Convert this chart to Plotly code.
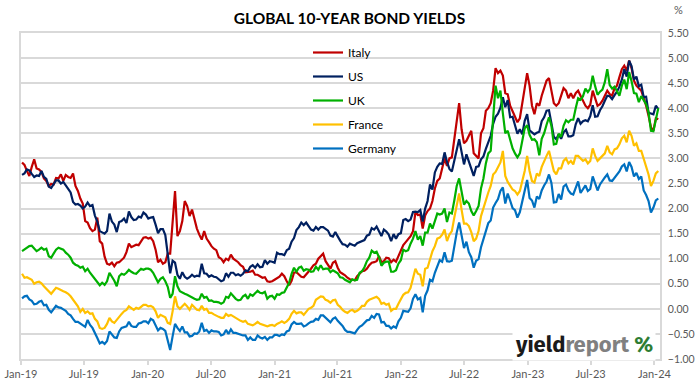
import pandas as pd
import plotly.graph_objects as go

# Weekly (Friday) observations, 2019-01-04 .. 2024-01-12
start_date = "2019-01-04"

italy = (
    # 2019
    [2.92, 2.87, 2.75, 2.65, 2.83, 2.98, 2.80, 2.78, 2.73, 2.60, 2.55, 2.45, 2.49,
     2.48, 2.61, 2.60, 2.68, 2.55, 2.67, 2.63, 2.61, 2.70, 2.45, 2.35, 2.20, 2.10,
     1.75, 1.72, 1.61, 1.55, 1.58, 1.82, 1.35, 1.30, 1.04, 0.90, 0.88, 0.92, 0.85,
     0.92, 0.93, 0.98, 1.02, 1.13, 1.30, 1.23, 1.26, 1.28, 1.27, 1.34, 1.42, 1.43]
    # 2020
    + [1.40, 1.42, 1.35, 1.18, 0.93, 0.98, 0.90, 0.93, 1.10, 1.10, 1.80, 2.35, 1.45,
       1.55, 1.75, 2.15, 2.05, 1.85, 1.98, 1.80, 1.60, 1.48, 1.38, 1.55, 1.40, 1.33,
       1.25, 1.20, 1.17, 1.03, 1.00, 0.93, 1.00, 0.97, 1.08, 1.00, 0.97, 0.93, 0.87,
       0.84, 0.73, 0.73, 0.74, 0.76, 0.68, 0.68, 0.65, 0.62, 0.63, 0.55, 0.54, 0.55]
    # 2021
    + [0.58, 0.61, 0.64, 0.70, 0.65, 0.55, 0.47, 0.56, 0.72, 0.73, 0.68, 0.64, 0.63,
       0.68, 0.75, 0.80, 0.87, 0.90, 1.00, 1.05, 1.10, 0.95, 0.88, 0.80, 0.92, 0.95,
       0.82, 0.73, 0.70, 0.67, 0.62, 0.59, 0.58, 0.57, 0.65, 0.70, 0.75, 0.76, 0.80,
       0.87, 0.92, 0.93, 0.95, 1.05, 0.93, 0.95, 1.02, 1.01, 0.93, 0.98, 0.94, 1.05, 1.17]
    # 2022
    + [1.27, 1.33, 1.38, 1.45, 1.55, 1.93, 1.87, 1.88, 1.60, 1.86, 1.95, 2.00,
       2.15, 2.40, 2.55, 2.60, 2.80, 3.00, 2.85, 3.00, 3.02, 3.37, 3.72, 4.10, 3.58,
       3.30, 3.35, 3.45, 3.55, 3.10, 3.05, 3.00, 3.50, 3.60, 3.95, 4.00, 4.10, 4.35, 4.80,
       4.70, 4.75, 4.65, 4.30, 4.28, 4.05, 3.95, 3.85, 3.72, 3.80, 4.15, 4.40, 4.70]
    # 2023
    + [4.45, 4.05, 3.88, 4.10, 4.05, 4.25, 4.40, 4.55, 4.60, 4.35, 4.10, 4.05, 4.10,
       4.25, 4.40, 4.35, 4.20, 4.30, 4.20, 4.30, 4.35, 4.25, 4.15, 4.05, 4.00, 4.07,
       4.35, 4.20, 4.05, 4.08, 4.15, 4.25, 4.35, 4.28, 4.25, 4.40, 4.45, 4.62, 4.78,
       4.85, 4.75, 4.95, 4.80, 4.55, 4.45, 4.40, 4.35, 4.20, 4.05, 3.85, 3.62, 3.55]
    # 2024
    + [3.80, 3.78]
)

us = (
    [2.67, 2.70, 2.78, 2.76, 2.69, 2.63, 2.66, 2.65, 2.75, 2.63, 2.59, 2.44, 2.41,
     2.50, 2.56, 2.56, 2.50, 2.53, 2.45, 2.39, 2.32, 2.13, 2.08, 2.09, 2.06, 2.00,
     2.04, 2.12, 2.05, 2.07, 1.86, 1.74, 1.55, 1.52, 1.50, 1.55, 1.90, 1.74, 1.68,
     1.53, 1.73, 1.75, 1.80, 1.71, 1.94, 1.83, 1.77, 1.78, 1.84, 1.82, 1.92, 1.88]
    + [1.80, 1.82, 1.83, 1.68, 1.51, 1.59, 1.59, 1.47, 1.13, 0.71, 0.96, 0.92, 0.68,
       0.60, 0.73, 0.64, 0.60, 0.63, 0.68, 0.64, 0.66, 0.65, 0.90, 0.71, 0.70, 0.64,
       0.67, 0.64, 0.63, 0.59, 0.55, 0.57, 0.71, 0.64, 0.72, 0.72, 0.67, 0.69, 0.66,
       0.70, 0.77, 0.75, 0.84, 0.87, 0.82, 0.89, 0.83, 0.84, 0.97, 0.90, 0.95, 0.94]
    + [0.92, 1.12, 1.09, 1.09, 1.07, 1.17, 1.20, 1.34, 1.41, 1.57, 1.63, 1.72, 1.67,
       1.72, 1.66, 1.58, 1.56, 1.63, 1.58, 1.63, 1.63, 1.59, 1.56, 1.46, 1.44, 1.53,
       1.43, 1.36, 1.29, 1.28, 1.24, 1.30, 1.28, 1.26, 1.31, 1.33, 1.34, 1.37, 1.46,
       1.48, 1.61, 1.58, 1.64, 1.55, 1.45, 1.58, 1.54, 1.48, 1.35, 1.49, 1.40, 1.49, 1.51]
    + [1.77, 1.79, 1.75, 1.78, 1.93, 1.94, 1.93, 1.97, 1.74, 2.00, 2.15, 2.48,
       2.38, 2.72, 2.83, 2.90, 2.89, 3.12, 2.93, 2.79, 2.74, 2.96, 3.16, 3.38, 3.13,
       2.88, 3.08, 2.93, 2.77, 2.65, 2.83, 2.84, 2.98, 3.04, 3.19, 3.31, 3.45, 3.69, 3.83,
       3.89, 4.01, 4.22, 4.02, 4.16, 3.82, 3.83, 3.68, 3.49, 3.58, 3.48, 3.75, 3.88]
    + [3.56, 3.51, 3.48, 3.51, 3.53, 3.74, 3.82, 3.95, 3.96, 3.70, 3.43, 3.38, 3.48,
       3.39, 3.52, 3.57, 3.44, 3.44, 3.46, 3.68, 3.80, 3.69, 3.74, 3.76, 3.74, 3.84,
       4.06, 3.83, 3.84, 3.96, 4.04, 4.15, 4.25, 4.24, 4.18, 4.26, 4.33, 4.43, 4.57,
       4.78, 4.63, 4.95, 4.84, 4.57, 4.63, 4.44, 4.47, 4.22, 4.23, 3.91, 3.90, 3.88]
    + [4.05, 3.98]
)

uk = (
    [1.15, 1.18, 1.22, 1.25, 1.26, 1.20, 1.15, 1.18, 1.22, 1.18, 1.20, 1.05, 1.02,
     1.10, 1.18, 1.22, 1.20, 1.18, 1.12, 1.08, 1.02, 0.92, 0.88, 0.86, 0.82, 0.84,
     0.75, 0.80, 0.72, 0.66, 0.60, 0.52, 0.47, 0.52, 0.48, 0.55, 0.72, 0.64, 0.56,
     0.45, 0.65, 0.70, 0.68, 0.72, 0.78, 0.74, 0.71, 0.70, 0.76, 0.80, 0.78, 0.80]
    + [0.80, 0.78, 0.72, 0.62, 0.53, 0.60, 0.63, 0.55, 0.44, 0.22, 0.30, 0.65, 0.45,
       0.35, 0.32, 0.30, 0.28, 0.25, 0.22, 0.20, 0.18, 0.19, 0.30, 0.22, 0.24, 0.16,
       0.17, 0.14, 0.14, 0.13, 0.10, 0.13, 0.24, 0.22, 0.31, 0.25, 0.20, 0.17, 0.18,
       0.25, 0.28, 0.20, 0.29, 0.26, 0.32, 0.36, 0.32, 0.31, 0.34, 0.20, 0.25, 0.26]
    + [0.20, 0.29, 0.28, 0.32, 0.33, 0.43, 0.52, 0.70, 0.82, 0.74, 0.82, 0.84, 0.76,
       0.79, 0.78, 0.74, 0.75, 0.84, 0.78, 0.87, 0.79, 0.80, 0.80, 0.73, 0.77, 0.74,
       0.71, 0.63, 0.62, 0.58, 0.56, 0.53, 0.59, 0.57, 0.58, 0.72, 0.75, 0.83, 0.95,
       1.02, 1.16, 1.12, 1.14, 1.03, 0.86, 0.92, 0.94, 0.94, 0.74, 0.74, 0.77, 0.90, 0.97]
    + [1.18, 1.15, 1.17, 1.30, 1.40, 1.55, 1.38, 1.45, 1.26, 1.52, 1.52, 1.70,
       1.60, 1.75, 1.90, 1.88, 1.90, 2.00, 1.73, 1.92, 1.90, 2.16, 2.45, 2.60, 2.33,
       2.08, 2.15, 2.10, 1.95, 1.86, 1.95, 2.05, 2.40, 2.60, 2.90, 3.10, 3.15, 3.80, 4.45,
       4.20, 4.35, 3.90, 3.50, 3.55, 3.35, 3.20, 3.10, 3.02, 3.10, 3.33, 3.60, 3.66]
    + [3.47, 3.37, 3.38, 3.32, 3.06, 3.39, 3.50, 3.67, 3.82, 3.65, 3.28, 3.29, 3.49,
       3.43, 3.65, 3.76, 3.72, 3.77, 3.77, 4.00, 4.20, 4.17, 4.24, 4.39, 4.32, 4.39,
       4.65, 4.44, 4.27, 4.33, 4.37, 4.52, 4.78, 4.46, 4.39, 4.43, 4.35, 4.25, 4.45,
       4.57, 4.38, 4.72, 4.54, 4.30, 4.29, 4.12, 4.24, 4.15, 4.08, 3.92, 3.55, 3.54]
    + [3.80, 4.00]
)

france = (
    [0.70, 0.62, 0.63, 0.60, 0.58, 0.50, 0.53, 0.54, 0.51, 0.45, 0.40, 0.33, 0.30,
     0.36, 0.42, 0.40, 0.37, 0.35, 0.33, 0.30, 0.25, 0.18, 0.10, 0.05, -0.06, 0.00,
     -0.08, -0.05, -0.10, -0.09, -0.20, -0.25, -0.38, -0.40, -0.38, -0.30, -0.18, -0.25, -0.28,
     -0.22, -0.14, -0.10, -0.05, -0.02, 0.05, 0.02, -0.02, 0.02, 0.00, 0.04, 0.08, 0.08]
    + [0.05, 0.06, 0.03, -0.05, -0.18, -0.12, -0.14, -0.17, -0.28, -0.30, -0.05, 0.25, 0.05,
       0.00, 0.05, 0.10, 0.05, -0.02, 0.08, 0.02, -0.02, -0.03, 0.06, -0.02, 0.00, -0.08,
       -0.08, -0.11, -0.14, -0.16, -0.18, -0.18, -0.10, -0.14, -0.12, -0.15, -0.18, -0.22, -0.24,
       -0.26, -0.24, -0.30, -0.32, -0.33, -0.30, -0.26, -0.30, -0.32, -0.33, -0.35, -0.33, -0.32]
    + [-0.34, -0.30, -0.28, -0.25, -0.28, -0.25, -0.20, -0.10, -0.04, -0.09, -0.07, -0.07, -0.12,
       -0.06, 0.00, 0.02, 0.06, 0.18, 0.22, 0.25, 0.24, 0.18, 0.16, 0.12, 0.17, 0.18,
       0.08, 0.04, -0.02, -0.06, -0.08, -0.04, -0.02, -0.06, -0.04, 0.00, 0.06, 0.06, 0.14,
       0.18, 0.20, 0.22, 0.24, 0.20, 0.10, 0.12, 0.08, 0.10, -0.04, 0.00, 0.00, 0.10, 0.20]
    + [0.28, 0.32, 0.33, 0.42, 0.60, 0.80, 0.70, 0.68, 0.45, 0.80, 0.82, 0.98,
       1.15, 1.25, 1.40, 1.42, 1.48, 1.58, 1.35, 1.48, 1.55, 1.82, 2.05, 2.30, 1.98,
       1.70, 1.70, 1.65, 1.53, 1.35, 1.40, 1.55, 1.85, 2.02, 2.20, 2.32, 2.45, 2.68, 2.73,
       2.82, 2.92, 3.15, 2.65, 2.53, 2.45, 2.38, 2.35, 2.28, 2.35, 2.55, 2.75, 3.05]
    + [2.75, 2.55, 2.52, 2.70, 2.65, 2.83, 2.95, 3.05, 3.15, 2.95, 2.75, 2.68, 2.80,
       2.80, 2.95, 3.00, 2.90, 2.95, 2.88, 3.05, 3.05, 3.00, 2.95, 2.98, 2.90, 2.95,
       3.20, 3.05, 2.95, 3.00, 3.05, 3.10, 3.25, 3.12, 3.08, 3.18, 3.20, 3.28, 3.40,
       3.45, 3.32, 3.55, 3.45, 3.25, 3.30, 3.15, 3.15, 2.98, 2.85, 2.68, 2.45, 2.55]
    + [2.70, 2.75]
)

germany = (
    [0.21, 0.25, 0.26, 0.19, 0.16, 0.09, 0.10, 0.14, 0.16, 0.07, 0.08, -0.02, -0.07,
     0.00, 0.06, 0.03, 0.02, -0.01, -0.04, -0.10, -0.13, -0.20, -0.26, -0.26, -0.29, -0.33,
     -0.36, -0.22, -0.32, -0.38, -0.50, -0.58, -0.69, -0.66, -0.70, -0.64, -0.45, -0.52, -0.57,
     -0.58, -0.45, -0.38, -0.36, -0.35, -0.26, -0.34, -0.36, -0.36, -0.29, -0.28, -0.25, -0.25]
    + [-0.29, -0.20, -0.23, -0.34, -0.43, -0.38, -0.40, -0.44, -0.61, -0.82, -0.55, -0.30, -0.38,
       -0.44, -0.35, -0.47, -0.47, -0.55, -0.54, -0.49, -0.50, -0.45, -0.28, -0.44, -0.42, -0.48,
       -0.43, -0.45, -0.45, -0.46, -0.53, -0.51, -0.42, -0.50, -0.41, -0.48, -0.48, -0.50, -0.52,
       -0.53, -0.53, -0.62, -0.57, -0.62, -0.62, -0.53, -0.57, -0.59, -0.56, -0.62, -0.57, -0.57]
    + [-0.52, -0.52, -0.54, -0.51, -0.52, -0.45, -0.43, -0.31, -0.26, -0.30, -0.30, -0.29, -0.35,
       -0.33, -0.29, -0.26, -0.25, -0.20, -0.22, -0.13, -0.13, -0.18, -0.21, -0.27, -0.20, -0.17,
       -0.24, -0.29, -0.34, -0.42, -0.46, -0.46, -0.47, -0.49, -0.42, -0.36, -0.33, -0.28, -0.23,
       -0.22, -0.14, -0.18, -0.10, -0.11, -0.27, -0.26, -0.34, -0.34, -0.39, -0.35, -0.38, -0.25, -0.18]
    + [-0.04, -0.05, -0.06, 0.01, 0.20, 0.29, 0.19, 0.22, -0.07, 0.26, 0.37, 0.58,
       0.55, 0.72, 0.84, 0.97, 0.94, 1.13, 0.95, 0.94, 0.96, 1.27, 1.52, 1.72, 1.44,
       1.21, 1.34, 1.13, 1.03, 0.82, 0.96, 0.99, 1.23, 1.39, 1.53, 1.71, 1.76, 2.02, 2.11,
       2.19, 2.35, 2.42, 2.10, 2.30, 2.16, 2.01, 1.97, 1.82, 1.93, 2.15, 2.38, 2.57]
    + [2.21, 2.16, 2.02, 2.24, 2.19, 2.36, 2.46, 2.54, 2.68, 2.51, 2.12, 2.13, 2.29,
       2.18, 2.44, 2.48, 2.36, 2.30, 2.28, 2.43, 2.54, 2.31, 2.38, 2.46, 2.35, 2.39,
       2.64, 2.48, 2.36, 2.48, 2.56, 2.62, 2.68, 2.56, 2.55, 2.61, 2.68, 2.74, 2.84,
       2.88, 2.74, 2.93, 2.83, 2.64, 2.71, 2.59, 2.64, 2.36, 2.27, 2.15, 1.92, 2.02]
    + [2.16, 2.20]
)

series_names = ["Italy", "US", "UK", "France", "Germany"]
series_values = [italy, us, uk, france, germany]
series_colors = ["#C00000", "#002060", "#00B000", "#FFC000", "#0070C0"]

y_ticks = [-1.0, -0.5, 0.0, 0.5, 1.0, 1.5, 2.0, 2.5, 3.0, 3.5, 4.0, 4.5, 5.0, 5.5]
x_ticks = pd.date_range("2019-01-01", "2024-01-01", freq="6MS")

FONT = "Lato, 'Open Sans', sans-serif"
GRID = "#D9D9D9"

fig = go.Figure()
for name, vals, col in zip(series_names, series_values, series_colors):
    dates = pd.date_range(start_date, periods=len(vals), freq="W-FRI")
    fig.add_trace(go.Scatter(
        x=dates, y=vals, name=name, mode="lines", legendgroup=name,
        line=dict(color=col, width=2.2),
    ))

fig.update_layout(
    width=699, height=384,
    margin=dict(l=21, r=39, t=33, b=25, autoexpand=False),
    paper_bgcolor="white", plot_bgcolor="white",
    font=dict(family=FONT, color="#595959", size=11),
    title=dict(text="<b>GLOBAL 10-YEAR BOND YIELDS</b>", x=0.5, xref="container",
               xanchor="center", y=1 - 19 / 384, yanchor="middle",
               font=dict(family=FONT, size=15.5, color="#000000")),
    showlegend=True,
    legend=dict(x=(308 - 21) / 639, xanchor="left", y=1.0 - 5 / 326, yanchor="top",
                bgcolor="rgba(0,0,0,0)", font=dict(family=FONT, size=12, color="#000000"),
                tracegroupgap=5, itemwidth=30),
    xaxis=dict(
        range=["2019-01-01", "2024-01-17"], automargin=False,
        tickvals=x_ticks, tickformat="%b-%y",
        showgrid=False, showline=True, linecolor=GRID, linewidth=1.5, mirror=True,
        ticks="outside", ticklen=4, tickcolor=GRID, tickwidth=1.5,
        tickfont=dict(size=11, color="#595959"),
    ),
    yaxis=dict(
        side="right", range=[-1.0, 5.5], tickvals=y_ticks, tickformat=".2f", automargin=False,
        showgrid=True, gridcolor=GRID, gridwidth=1.5,
        showline=True, linecolor=GRID, linewidth=1.5, mirror=True,
        zeroline=False, ticks="", ticklabelstandoff=4,
        tickfont=dict(size=10.5, color="#595959"),
    ),
)

fig.add_annotation(text="%", xref="paper", yref="paper", x=1.0 + 18 / 639, y=1.0 + 23 / 326,
                   xanchor="center", yanchor="middle", showarrow=False,
                   font=dict(family=FONT, size=11, color="#595959"))

fig.add_annotation(
    text="<b><span style='color:#1A1A1A'>yield</span><span style='color:#808080'>report</span>"
         " <span style='color:#2E7D32'>%</span></b>",
    xref="paper", yref="paper", x=(656 - 21) / 639, y=(359 - 344) / 326,
    xanchor="right", yanchor="middle", showarrow=False,
    bgcolor="white", borderpad=2,
    font=dict(family="'Fira Sans', 'Open Sans', sans-serif", size=22),
)

fig.write_html("out.html", config={"displayModeBar": False},
               post_script="document.body.style.margin='0';")
